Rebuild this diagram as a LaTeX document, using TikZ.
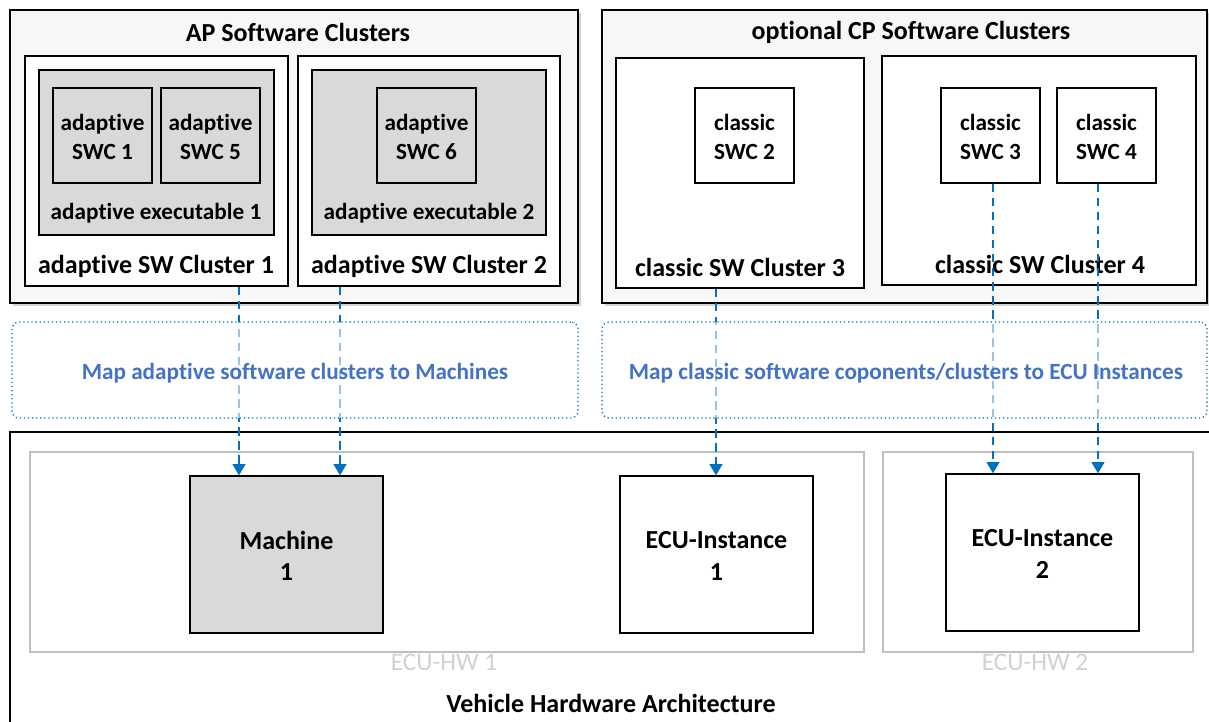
\documentclass[tikz,border=0pt]{standalone}
\usepackage{fontspec}
\setmainfont{Carlito}[Ligatures={NoCommon,NoRequired}]
\usetikzlibrary{positioning,fit,shadows,arrows.meta}

\definecolor{mapblue}{RGB}{0,112,192}
\definecolor{maptext}{RGB}{68,114,196}

\tikzset{
  bigfont/.style={font=\bfseries\fontsize{18.5}{22.5}\selectfont},
  smallfont/.style={font=\bfseries\fontsize{16.5}{21}\selectfont},
  swgroup/.style={draw, line width=1pt, fill=black!3, inner sep=0pt,
    drop shadow={shadow xshift=2pt, shadow yshift=-2pt, opacity=0.35}},
  cluster/.style={draw, line width=0.9pt, fill=white, inner sep=0pt},
  execbox/.style={draw, line width=0.9pt, fill=black!15, inner sep=0pt},
  swc/.style={draw, line width=0.9pt, inner sep=0pt},
  swctext/.style={align=center, smallfont, inner sep=0pt},
  mapping/.style={draw=mapblue, dotted, line width=0.9pt, rounded corners=5pt,
    fill=white, fill opacity=0.6, inner sep=0pt},
  maplbl/.style={text=maptext, smallfont},
  ecuhw/.style={draw=black!25, line width=1pt, inner sep=0pt},
  hwlbl/.style={text=black!18, font=\fontsize{18}{22}\selectfont},
  target/.style={draw, line width=0.9pt, inner sep=0pt},
  targettext/.style={align=center, bigfont, inner sep=0pt},
  maparrow/.style={draw=mapblue, line width=1.5pt, dash pattern=on 6pt off 4pt,
    -{Triangle[width=9pt,length=8pt]}}
}

\begin{document}
\begin{tikzpicture}[x=0.025cm, y=-0.025cm]
  \useasboundingbox (0,0) rectangle (1209,722);
  \clip (0,0) rectangle (1209,722);

  % software clusters
  \node[swgroup, fit={(10,10) (578,303)}] (ap) {};
  \node[swgroup, fit={(602,10) (1207,303)}] (cp) {};
  \node[bigfont] (aptitle) at (298,32) {AP Software Clusters};
  \node[bigfont] (cptitle) at (911,32) {optional CP Software Clusters};

  \node[cluster, fit={(25,56) (288,286)}] (acl1) {};
  \node[cluster, fit={(298,56) (560,286)}] (acl2) {};
  \node[execbox, fit={(39,70) (274,235)}] (exe1) {};
  \node[execbox, fit={(312,70) (546,235)}] (exe2) {};
  \node[swc, fit={(53,88) (152,183)}] (aswc1) {};
  \node[swc, fit={(161,88) (260,183)}] (aswc5) {};
  \node[swc, fit={(377,88) (476,183)}] (aswc6) {};
  \node[swctext] (aswc1txt) at ([yshift=-1pt]aswc1.center) {adaptive\\SWC 1};
  \node[swctext] (aswc5txt) at ([yshift=-1pt]aswc5.center) {adaptive\\SWC 5};
  \node[swctext] (aswc6txt) at ([yshift=-1pt]aswc6.center) {adaptive\\SWC 6};
  \node[smallfont] (exe1lbl) at (156,213) {adaptive executable 1};
  \node[smallfont] (exe2lbl) at (429,213) {adaptive executable 2};
  \node[bigfont] (acl1lbl) at (156,266) {adaptive SW Cluster 1};
  \node[bigfont] (acl2lbl) at (429,266) {adaptive SW Cluster 2};

  \node[cluster, fit={(616,58) (864,288)}] (ccl3) {};
  \node[cluster, fit={(882,56) (1196,285)}] (ccl4) {};
  \node[swc, fit={(695,88) (794,183)}] (cswc2) {};
  \node[swc, fit={(941,88) (1040,183)}] (cswc3) {};
  \node[swc, fit={(1057,88) (1156,183)}] (cswc4) {};
  \node[swctext] (cswc2txt) at ([yshift=-1pt]cswc2.center) {classic\\SWC 2};
  \node[swctext] (cswc3txt) at ([yshift=-1pt]cswc3.center) {classic\\SWC 3};
  \node[swctext] (cswc4txt) at ([yshift=-1pt]cswc4.center) {classic\\SWC 4};
  \node[bigfont] (ccl3lbl) at (740,267) {classic SW Cluster 3};
  \node[bigfont] (ccl4lbl) at (1040,264) {classic SW Cluster 4};

  % hardware
  \node[draw, line width=1.3pt, inner sep=0pt, fit={(10,432) (1220,735)}] (vhw) {};
  \node[ecuhw, fit={(30,452) (864,652)}] (hw1) {};
  \node[ecuhw, fit={(883,452) (1193,652)}] (hw2) {};
  \node[hwlbl] (hw1lbl) at (444,662) {ECU-HW 1};
  \node[hwlbl] (hw2lbl) at (1035,662) {ECU-HW 2};
  \node[bigfont] (vhwlbl) at (611,703) {Vehicle Hardware Architecture};
  \node[target, fill=black!15, fit={(190,476) (383,633)}] (mach1) {};
  \node[target, fit={(620,476) (813,633)}] (ecu1) {};
  \node[target, fit={(946,474) (1139,631)}] (ecu2) {};
  \node[targettext] (mach1txt) at ([yshift=-1pt]mach1.center) {Machine\\1};
  \node[targettext] (ecu1txt) at ([yshift=-1pt]ecu1.center) {ECU-Instance\\1};
  \node[targettext] (ecu2txt) at ([yshift=-1pt]ecu2.center) {ECU-Instance\\2};

  % mappings
  \coordinate (a1) at (239,0);
  \coordinate (a2) at (340,0);
  \coordinate (a3) at (716,0);
  \coordinate (a4) at (993,0);
  \coordinate (a5) at (1098,0);
  \draw[maparrow] (acl1.south -| a1) -- (mach1.north -| a1);
  \draw[maparrow] (acl2.south -| a2) -- (mach1.north -| a2);
  \draw[maparrow] (ccl3.south -| a3) -- (ecu1.north -| a3);
  \draw[maparrow] (cswc3.south -| a4) -- (ecu2.north -| a4);
  \draw[maparrow] (cswc4.south -| a5) -- (ecu2.north -| a5);

  \node[mapping, fit={(12,322) (578,418)}] (map1) {};
  \node[mapping, fit={(602,322) (1207,418)}] (map2) {};
  \node[maplbl] (map1lbl) at ([yshift=-2pt]map1.center) {Map adaptive software clusters to Machines};
  \node[maplbl] (map2lbl) at ([xshift=1pt,yshift=-2pt]map2.center) {Map classic software coponents/clusters to ECU Instances};
\end{tikzpicture}
\end{document}
